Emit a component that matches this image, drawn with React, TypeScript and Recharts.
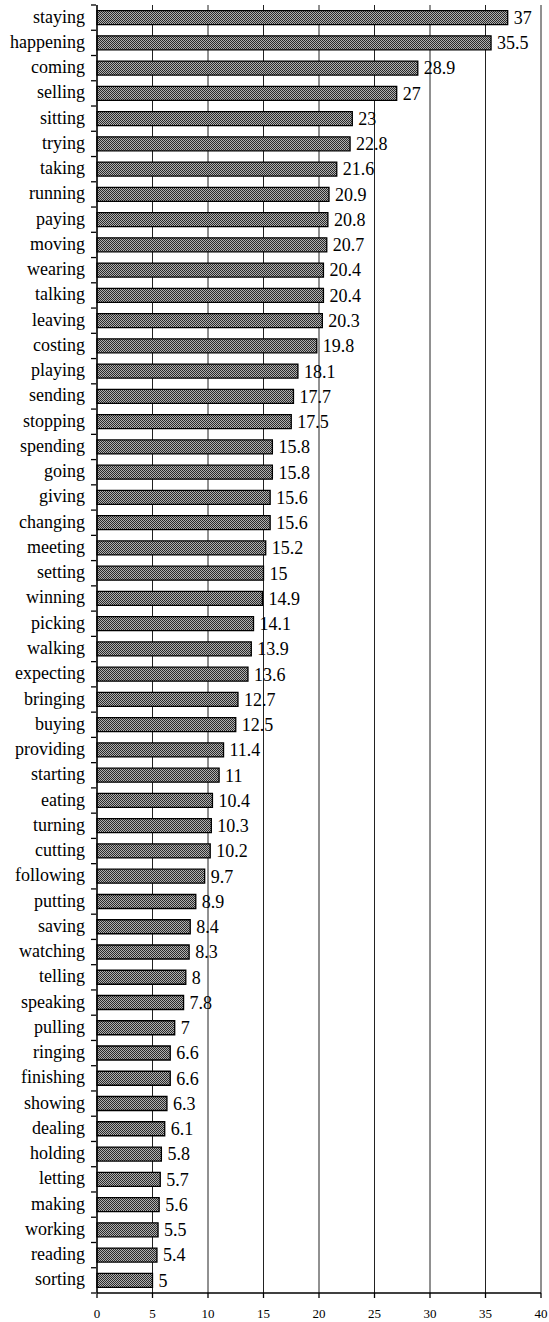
import { BarChart, Bar, XAxis, YAxis, CartesianGrid, LabelList } from 'recharts';

const verbs = [
  'staying', 'happening', 'coming', 'selling', 'sitting', 'trying', 'taking', 'running',
  'paying', 'moving', 'wearing', 'talking', 'leaving', 'costing', 'playing', 'sending',
  'stopping', 'spending', 'going', 'giving', 'changing', 'meeting', 'setting', 'winning',
  'picking', 'walking', 'expecting', 'bringing', 'buying', 'providing', 'starting', 'eating',
  'turning', 'cutting', 'following', 'putting', 'saving', 'watching', 'telling', 'speaking',
  'pulling', 'ringing', 'finishing', 'showing', 'dealing', 'holding', 'letting', 'making',
  'working', 'reading', 'sorting',
];

const scores = [
  37, 35.5, 28.9, 27, 23, 22.8, 21.6, 20.9,
  20.8, 20.7, 20.4, 20.4, 20.3, 19.8, 18.1, 17.7,
  17.5, 15.8, 15.8, 15.6, 15.6, 15.2, 15, 14.9,
  14.1, 13.9, 13.6, 12.7, 12.5, 11.4, 11, 10.4,
  10.3, 10.2, 9.7, 8.9, 8.4, 8.3, 8, 7.8,
  7, 6.6, 6.6, 6.3, 6.1, 5.8, 5.7, 5.6,
  5.5, 5.4, 5,
];

const xTicks = [0, 5, 10, 15, 20, 25, 30, 35, 40];

const data = verbs.map((verb, i) => ({ verb, value: scores[i] }));

const FONT = 'Liberation Serif, Times New Roman, serif';
const BAND = (1293 - 5) / verbs.length;

// category ticks sit on the band edges, excel style
function VerbTick(props: any) {
  const { x, y, payload, index } = props;
  const ax = x + 7;
  return (
    <g>
      <line x1={ax - 5} x2={ax} y1={y - BAND / 2} y2={y - BAND / 2} stroke="#000" strokeWidth={1.3} />
      {index === verbs.length - 1 && (
        <line x1={ax - 5} x2={ax} y1={y + BAND / 2} y2={y + BAND / 2} stroke="#000" strokeWidth={1.3} />
      )}
      <text x={x - 4} y={y} dy={5} textAnchor="end" style={{ fontFamily: FONT, fontSize: 18 }} fill="#000">
        {payload.value}
      </text>
    </g>
  );
}

export default function App() {
  return (
    <div style={{ position: 'absolute', left: 0, top: 0, background: '#fff', fontFamily: FONT }}>
      <BarChart
        width={549}
        height={1322}
        data={data}
        layout="vertical"
        margin={{ top: 5, right: 8, left: 0, bottom: 0 }}
        barCategoryGap="22%"
        style={{ fontFamily: FONT }}
      >
        <defs>
          <pattern id="checker" width={2} height={2} patternUnits="userSpaceOnUse">
            <rect width={2} height={2} fill="#b0b0b0" />
            <rect width={1} height={1} fill="#2a2a2a" />
            <rect x={1} y={1} width={1} height={1} fill="#2a2a2a" />
          </pattern>
        </defs>
        <CartesianGrid horizontal={false} stroke="#222" strokeWidth={1} />
        <XAxis
          type="number"
          domain={[0, 40]}
          ticks={xTicks}
          interval={0}
          height={29}
          axisLine={{ stroke: '#000', strokeWidth: 1.3 }}
          tickLine={{ stroke: '#000', strokeWidth: 1.3 }}
          tickSize={5}
          tickMargin={11}
          tick={{ fontFamily: FONT, fontSize: 13, fill: '#000' }}
        />
        <YAxis
          type="category"
          dataKey="verb"
          width={97}
          interval={0}
          axisLine={{ stroke: '#000', strokeWidth: 1.3 }}
          tickLine={false}
          tick={<VerbTick />}
        />
        <Bar dataKey="value" fill="url(#checker)" stroke="#000" strokeWidth={1.3} isAnimationActive={false}>
          <LabelList
            dataKey="value"
            position="right"
            offset={6}
            style={{ fontFamily: FONT, fontSize: 18, fill: '#000' }}
          />
        </Bar>
      </BarChart>
    </div>
  );
}
